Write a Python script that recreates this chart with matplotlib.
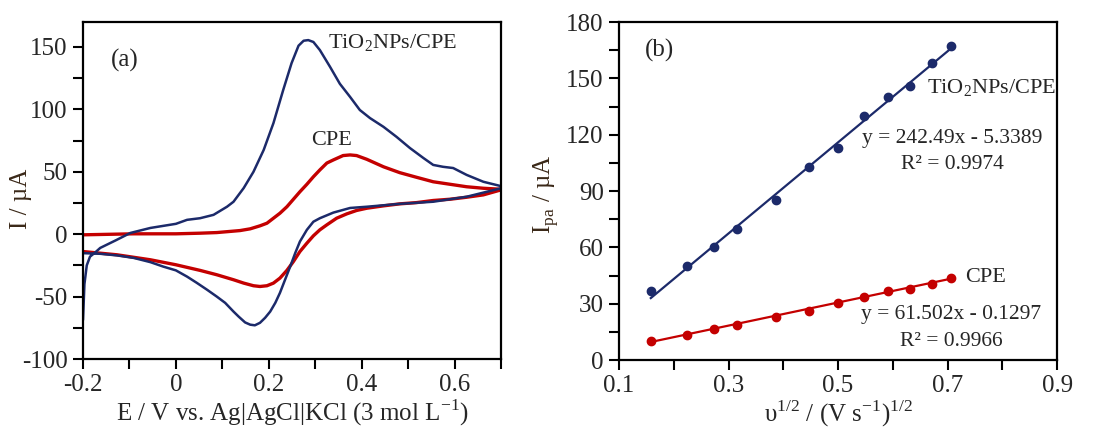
import matplotlib
matplotlib.use("Agg")
import matplotlib.pyplot as plt
import numpy as np

plt.rcParams['font.family'] = ['Liberation Serif', 'DejaVu Serif']
plt.rcParams['mathtext.fontset'] = 'custom'
plt.rcParams['mathtext.rm'] = 'Liberation Serif'
plt.rcParams['axes.unicode_minus'] = False

# ---- Panel (a): cyclic voltammograms ----
cv_tio2_E = [-0.2, -0.197, -0.192, -0.185, -0.175, -0.163, -0.13, -0.098, -0.055, 0.0, 0.024, 0.052,
             0.081, 0.11, 0.124, 0.146, 0.167, 0.189, 0.21, 0.231, 0.249, 0.264, 0.275, 0.285,
             0.296, 0.31, 0.332, 0.353, 0.375, 0.396, 0.418, 0.447, 0.475, 0.504, 0.533, 0.554,
             0.575, 0.597, 0.626, 0.662, 0.7,
             0.7, 0.626, 0.554, 0.482, 0.411, 0.375, 0.339, 0.31, 0.296, 0.282, 0.267, 0.257,
             0.246, 0.235, 0.224, 0.214, 0.203, 0.192, 0.181, 0.17, 0.16, 0.149, 0.135, 0.124,
             0.106, 0.088, 0.067, 0.045, 0.024, 0.0, -0.027, -0.055, -0.091, -0.127, -0.163, -0.2]
cv_tio2_I = [-68, -40, -25, -18, -15, -11, -5, 1, 5, 8.3, 11.5, 12.8,
             15.5, 22, 26, 37, 50, 67.5, 89, 115.5, 137, 151, 155, 155.5,
             154, 147.5, 134, 120.5, 110, 99.5, 93, 86, 78, 69, 61, 55.5,
             54, 53, 47.5, 42, 38.5,
             36.8, 30, 26, 24.3, 22, 21, 17.3, 12.8, 10, 3.5, -5.9, -15,
             -26, -36.5, -47, -55, -62, -67, -71, -73, -72.5, -70.7, -66, -62,
             -55, -50, -44.5, -39, -34, -29, -26, -22.4, -19, -17, -15.7, -15.2]

cv_cpe_E = [-0.2, -0.091, 0.0, 0.052, 0.088, 0.138, 0.16, 0.181, 0.196, 0.21, 0.224, 0.239,
            0.253, 0.267, 0.282, 0.296, 0.31, 0.325, 0.339, 0.36, 0.375, 0.389, 0.411, 0.447,
            0.482, 0.518, 0.554, 0.59, 0.626, 0.662, 0.7,
            0.7, 0.662, 0.626, 0.59, 0.554, 0.518, 0.482, 0.447, 0.411, 0.389, 0.368, 0.346,
            0.325, 0.31, 0.296, 0.282, 0.267, 0.253, 0.239, 0.224, 0.21, 0.196, 0.181, 0.167,
            0.146, 0.124, 0.088, 0.052, 0.0, -0.055, -0.127, -0.2]
cv_cpe_I = [-0.5, 0.3, 0.3, 0.8, 1.3, 2.9, 4.3, 6.7, 8.8, 12.8, 16.8, 22,
            28, 34, 40, 46, 51.5, 57, 59.5, 63, 63.5, 63, 60, 54,
            49.3, 45.6, 42, 40, 38, 36.8, 36,
            35.5, 31.5, 29.6, 28, 27, 25.3, 24.3, 22.7, 20.8, 19, 16.3, 12.8,
            7.5, 3.5, -1.3, -7.2, -13.9, -21.9, -29, -35.2, -39.2, -41.3, -41.9, -41.3,
            -39.2, -36.5, -32.5, -29, -24.5, -20.5, -16.5, -13.9]

# ---- Panel (b): peak current vs sqrt(scan rate) ----
sqrt_v = [0.158, 0.224, 0.274, 0.316, 0.387, 0.447, 0.5, 0.548, 0.592, 0.632, 0.671, 0.707]
ipa_tio2 = [37, 50, 60, 70, 85, 103, 113, 130, 140, 146, 158, 167]
ipa_cpe = [10, 13.5, 16.5, 18.5, 23, 26, 30.5, 33.5, 36.5, 38, 40.5, 43.5]
fit_tio2 = (242.49, -5.3389)
fit_cpe = (61.502, -0.1297)

BLUE = '#1c2a6a'
RED = '#c40000'
TXT = '#262626'
FS = 18
FA = 16
FE = 15.5

fig = plt.figure(figsize=(10.97, 4.34), dpi=100)
ax1 = fig.add_axes([0.0757, 0.1728, 0.381, 0.7765])
ax2 = fig.add_axes([0.5643, 0.1705, 0.3993, 0.7788])

ax1.plot(cv_cpe_E, cv_cpe_I, color=RED, lw=2.4)
ax1.plot(cv_tio2_E, cv_tio2_I, color=BLUE, lw=1.8)
ax1.set_xlim(-0.2, 0.7)
ax1.set_ylim(-100, 170)
ax1.set_xticks([-0.2, 0, 0.2, 0.4, 0.6])
ax1.set_xticklabels(['-0.2', '0', '0.2', '0.4', '0.6'])
ax1.set_xticks(np.arange(-0.2, 0.71, 0.1), minor=True)
ax1.set_yticks([-100, -50, 0, 50, 100, 150])
ax1.set_yticks(np.arange(-100, 170, 25), minor=True)
ax1.set_xlabel('E / V vs. Ag|AgCl|KCl (3 mol L$^{-1}$)', fontsize=FS, color=TXT, labelpad=1)
ax1.set_ylabel('I / µA', fontsize=FS, color='#3a2818')
ax1.yaxis.set_label_coords(-0.122, 0.475)
ax1.text(-0.14, 139, '(a)', fontsize=FS, color=TXT, va='center', ha='left')
ax1.text(0.327, 153, 'TiO$_2$NPs/CPE', fontsize=FA, color=TXT, va='center', ha='left')
ax1.text(0.292, 75, 'CPE', fontsize=FA, color=TXT, va='center', ha='left')

ax2.plot(sqrt_v, ipa_tio2, 'o', color=BLUE, ms=6)
ax2.plot(sqrt_v, ipa_cpe, 'o', color=RED, ms=6)
xs = np.array([sqrt_v[0], sqrt_v[-1]])
ax2.plot(xs, fit_tio2[0] * xs + fit_tio2[1], color=BLUE, lw=1.6)
ax2.plot(xs, fit_cpe[0] * xs + fit_cpe[1], color=RED, lw=1.6)
ax2.set_xlim(0.1, 0.9)
ax2.set_ylim(0, 180)
ax2.set_xticks([0.1, 0.3, 0.5, 0.7, 0.9])
ax2.set_xticklabels(['0.1', '0.3', '0.5', '0.7', '0.9'])
ax2.set_xticks(np.arange(0.1, 0.91, 0.1), minor=True)
ax2.set_yticks(np.arange(0, 181, 30))
ax2.set_yticks(np.arange(0, 181, 15), minor=True)
ax2.set_xlabel('υ$^{1/2}$ / (V s$^{-1}$)$^{1/2}$', fontsize=FS, color=TXT, labelpad=1)
ax2.set_ylabel('I$_{\\mathrm{pa}}$ / µA', fontsize=FS, color='#3a2818')
ax2.yaxis.set_label_coords(-0.132, 0.49)
ax2.text(0.1475, 165, '(b)', fontsize=FS, color=TXT, va='center', ha='left')
ax2.text(0.6626, 145, 'TiO$_2$NPs/CPE', fontsize=FA, color=TXT, va='center', ha='left')
ax2.text(0.708, 118, 'y = 242.49x - 5.3389', fontsize=FE, color=TXT, va='center', ha='center')
ax2.text(0.708, 104, 'R² = 0.9974', fontsize=FE, color=TXT, va='center', ha='center')
ax2.text(0.732, 44, 'CPE', fontsize=FA, color=TXT, va='center', ha='left')
ax2.text(0.706, 24, 'y = 61.502x - 0.1297', fontsize=FE, color=TXT, va='center', ha='center')
ax2.text(0.706, 9.6, 'R² = 0.9966', fontsize=FE, color=TXT, va='center', ha='center')

for ax in (ax1, ax2):
    for sp in ax.spines.values():
        sp.set_linewidth(1.6)
        sp.set_color('black')
    ax.tick_params(which='major', direction='out', length=7, width=1.5, labelsize=FS,
                   labelcolor=TXT, pad=4)
    ax.tick_params(which='minor', direction='out', length=7, width=1.5)

fig.savefig('out.png', dpi=100)
